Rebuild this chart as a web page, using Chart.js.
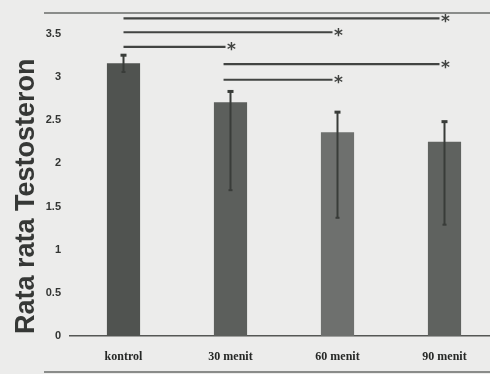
<!DOCTYPE html>
<html>
<head>
<meta charset="utf-8">
<script src="https://cdn.jsdelivr.net/npm/chart.js@4.4.1/dist/chart.umd.min.js"></script>
<style>
  html, body { margin: 0; padding: 0; background: #ececeb; overflow: hidden; }
  canvas { display: block; }
</style>
</head>
<body>
<canvas id="c" width="498" height="374"></canvas>
<script>
// Mean testosterone per group, with the whisker ends drawn over each bar
const categories = ['kontrol', '30 menit', '60 menit', '90 menit'];
const means      = [3.16, 2.71, 2.36, 2.25];
const whiskerTop = [3.26, 2.84, 2.60, 2.49];
const whiskerLow = [3.06, 1.69, 1.37, 1.29];
const barColors  = ['#505350', '#5c5f5c', '#6e706e', '#5f625f'];

// Significance brackets: from group, to group, height on the y scale
const sigFrom  = [0, 0, 0, 1, 1];
const sigTo    = [3, 2, 1, 3, 2];
const sigLevel = [3.68, 3.52, 3.35, 3.15, 2.97];

const yTicks = [0, 0.5, 1, 1.5, 2, 2.5, 3, 3.5];

const overlay = {
  id: 'overlay',
  afterDatasetsDraw(chart) {
    const ctx = chart.ctx;
    const x = chart.scales.x, y = chart.scales.y;
    const half = (x.getPixelForValue(1) - x.getPixelForValue(0)) / 2;
    ctx.save();
    // whiskers
    ctx.strokeStyle = '#393c39';
    ctx.fillStyle = '#393c39';
    ctx.lineWidth = 2;
    categories.forEach((c, i) => {
      const cx = x.getPixelForValue(i);
      const yt = y.getPixelForValue(whiskerTop[i]);
      const yl = y.getPixelForValue(whiskerLow[i]);
      ctx.beginPath();
      ctx.moveTo(cx, yt);
      ctx.lineTo(cx, yl);
      ctx.stroke();
      ctx.fillRect(cx - 3, yt - 1, 6, 3);
      ctx.fillRect(cx - 2, yl - 1, 4, 2);
    });
    // significance lines with asterisks
    ctx.strokeStyle = '#424442';
    ctx.fillStyle = '#424442';
    ctx.lineWidth = 2.2;
    ctx.font = 'bold 17px "DejaVu Sans"';
    ctx.textAlign = 'center';
    ctx.textBaseline = 'middle';
    sigFrom.forEach((f, k) => {
      // brackets that start at a treated group begin a little left of its centre
      const x0 = x.getPixelForValue(f) - (f > 0 ? half * 0.13 : 0);
      const x1 = x.getPixelForValue(sigTo[k]);
      const py = y.getPixelForValue(sigLevel[k]);
      ctx.beginPath();
      ctx.moveTo(x0, py);
      ctx.lineTo(x1 - 5, py);
      ctx.stroke();
      ctx.fillText('*', x1 + 1, py + 4);
    });
    // frame lines
    ctx.strokeStyle = '#6a6c6a';
    ctx.lineWidth = 1.5;
    ctx.beginPath();
    ctx.moveTo(44, 13);
    ctx.lineTo(498, 13);
    ctx.stroke();
    ctx.beginPath();
    ctx.moveTo(44, 372);
    ctx.lineTo(498, 372);
    ctx.stroke();
    ctx.restore();
  }
};

new Chart(document.getElementById('c'), {
  type: 'bar',
  data: {
    labels: categories,
    datasets: [{
      data: means,
      backgroundColor: barColors,
      borderWidth: 0,
      barPercentage: 0.31,
      categoryPercentage: 1
    }]
  },
  options: {
    responsive: false,
    animation: false,
    layout: { padding: { top: 34, right: 0, left: 0, bottom: 0 } },
    plugins: { legend: { display: false }, tooltip: { enabled: false } },
    scales: {
      x: {
        grid: { display: false, drawTicks: false },
        border: { display: true, color: '#555755', width: 1.5 },
        ticks: {
          padding: 14,
          color: '#262826',
          font: { family: '"Liberation Serif"', weight: 'bold', size: 12 }
        },
        afterFit(s) { s.height = 38; }
      },
      y: {
        min: 0,
        max: 3.5,
        grid: { display: false, drawTicks: false },
        border: { display: false },
        afterBuildTicks(s) { s.ticks = yTicks.map(v => ({ value: v })); },
        ticks: {
          padding: 9,
          color: '#333533',
          font: { family: '"Liberation Sans Narrow", "Liberation Sans"', size: 11, weight: 'bold' },
          callback: v => String(v)
        },
        title: {
          display: true,
          text: 'Rata rata Testosteron\u00a0\u00a0\u00a0',
          color: '#363836',
          font: { family: '"Liberation Sans"', weight: 'bold', size: 27 },
          padding: { top: 10, bottom: 0 }
        },
        afterFit(s) { s.width = 70; }
      }
    }
  },
  plugins: [overlay]
});
</script>
</body>
</html>
